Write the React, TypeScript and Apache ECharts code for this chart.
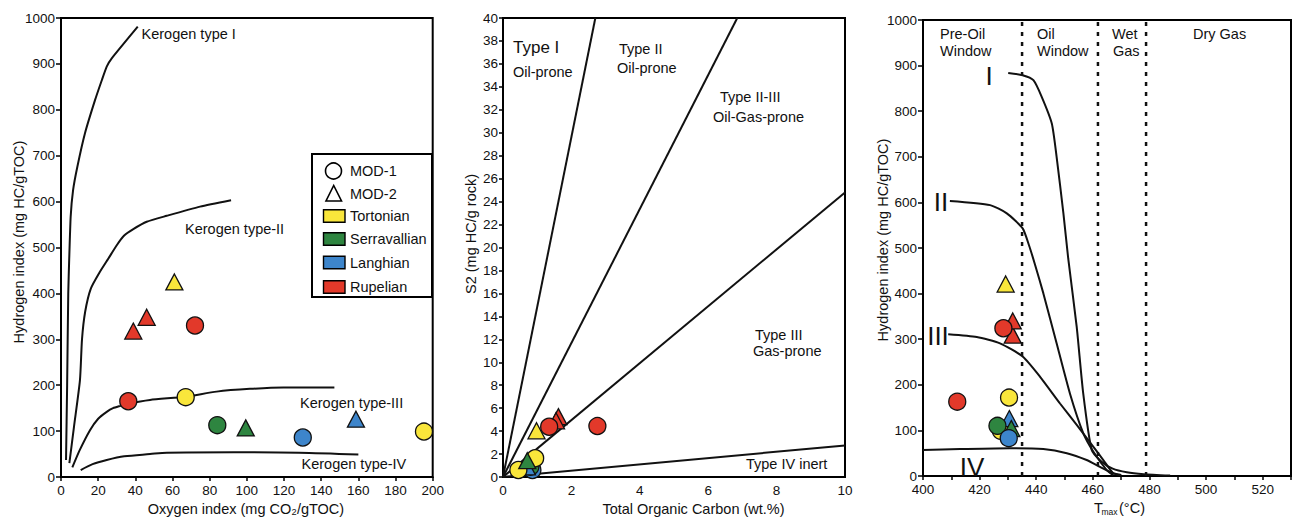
import { useEffect, useRef } from 'react';
import * as echarts from 'echarts';

const FONT = 'Liberation Sans, Arial, Helvetica, sans-serif';

const FORMATIONS = ['Tortonian', 'Serravallian', 'Langhian', 'Rupelian'];
const FORMATION_COLORS = ['#F9E63B', '#2E8540', '#3D85CB', '#E2392A'];
const WELLS = ['MOD-1', 'MOD-2'];

// ---- Panel A: Oxygen index vs Hydrogen index [OI, HI]
const oiHiTortMod1 = [[67.1, 174], [195.3, 99]];
const oiHiTortMod2 = [[61, 425]];
const oiHiSerrMod1 = [[84.1, 113]];
const oiHiSerrMod2 = [[99.4, 107]];
const oiHiLangMod1 = [[130.1, 86]];
const oiHiLangMod2 = [[158.7, 126]];
const oiHiRupMod1 = [[72.1, 330], [36.2, 165]];
const oiHiRupMod2 = [[38.9, 318], [46.1, 348]];

const kerogenTypeI = [[2.7, 37], [3.3, 200], [3.9, 400], [4.4, 473], [5.2, 567], [6.5, 625], [8.8, 676], [12.9, 749], [18.3, 821], [22, 865], [24.6, 894], [27.3, 912], [41.3, 981]];
const kerogenTypeII = [[4.5, 30], [7, 110], [10.2, 211], [11.3, 300], [13, 360], [16, 410], [20.8, 446], [25.5, 476], [30, 505], [34, 526], [38.9, 540], [46.1, 556], [56.9, 569], [74.8, 589], [91.5, 603]];
const kerogenTypeIII = [[6.1, 21], [10, 58], [15.6, 102], [20, 127], [24.6, 142], [28, 150], [32, 155], [36.2, 160], [47.9, 168], [67.1, 175], [83.7, 186], [101.7, 192], [119.6, 195], [147.1, 195]];
const kerogenTypeIV = [[10.6, 15], [17, 28], [24.6, 37], [34, 45], [47.9, 50], [57, 53], [93, 54], [128, 53], [160, 49]];

// ---- Panel B: TOC vs S2 [TOC, S2]
const tocS2TortMod1 = [[0.94, 1.63], [0.45, 0.61]];
const tocS2TortMod2 = [[0.98, 4.03]];
const tocS2SerrMod1 = [[0.8, 0.9]];
const tocS2SerrMod2 = [[0.71, 1.42]];
const tocS2LangMod1 = [[0.86, 0.61]];
const tocS2LangMod2 = [[0.7, 0.88]];
const tocS2RupMod1 = [[1.35, 4.38], [2.76, 4.44]];
const tocS2RupMod2 = [[1.62, 5.26], [1.55, 4.9]];

const boundaryTypeI = [[0, 0], [2.7, 40]];
const boundaryTypeII = [[0, 0], [6.85, 40]];
const boundaryTypeIII = [[0, 0], [10, 24.8]];
const boundaryTypeIV = [[0, 0], [10, 2.75]];

// ---- Panel C: Tmax vs HI [Tmax, HI]
const tmaxHiTortMod1 = [[430.4, 172], [427.5, 99]];
const tmaxHiTortMod2 = [[429.2, 421]];
const tmaxHiSerrMod1 = [[426.3, 110]];
const tmaxHiSerrMod2 = [[431.2, 104]];
const tmaxHiLangMod1 = [[430.3, 83]];
const tmaxHiLangMod2 = [[430.5, 126]];
const tmaxHiRupMod1 = [[428.4, 324], [412.1, 163]];
const tmaxHiRupMod2 = [[431.7, 309], [431.7, 340]];

const maturityTypeI = [[430.1, 884], [435.2, 879], [439, 868], [441.9, 832], [445.5, 773], [447.2, 700], [449.6, 576], [451.3, 477], [454.3, 327], [456.6, 181], [459.6, 57], [463, 32], [467, 16], [472, 8], [478, 4], [487.3, 1]];
const maturityTypeII = [[409.5, 603], [423.7, 594], [429.6, 576], [435.2, 543], [437.5, 505], [439.5, 465], [442.5, 401], [447.2, 291], [451.9, 181], [456.6, 94], [460.2, 53], [464.9, 13], [467.2, 2]];
const maturityTypeIII = [[408.9, 311], [419, 305], [427.2, 291], [435.2, 262], [441.3, 218], [448.4, 159], [454.3, 112], [460.2, 64], [463.7, 35], [467.2, 6], [470, 2]];
const maturityTypeIV = [[400, 57], [413.1, 59], [430.7, 61], [442.5, 59], [450.8, 50], [457.8, 35], [462.5, 20], [467.2, 6], [470, 2]];
const maturityZoneBounds = [435, 461.8, 478.8];

const xTicksTmax = [400, 420, 440, 460, 480, 500, 520];

function scatter(data: number[][], formation: number, well: number, axis: number) {
  return {
    type: 'scatter',
    name: FORMATIONS[formation] + ' ' + WELLS[well],
    xAxisIndex: axis,
    yAxisIndex: axis,
    data,
    symbol: well === 0 ? 'circle' : 'triangle',
    symbolSize: well === 0 ? 17 : [17, 16],
    itemStyle: { color: FORMATION_COLORS[formation], borderColor: '#111', borderWidth: 1.3, opacity: 1 },
    clip: false,
    silent: true,
    z: 5,
  };
}

function curve(data: number[][], axis: number, smooth: number | boolean = 0.2) {
  return {
    type: 'line',
    xAxisIndex: axis,
    yAxisIndex: axis,
    data,
    showSymbol: false,
    symbol: 'none',
    smooth,
    lineStyle: { color: '#111', width: 2 },
    silent: true,
    z: 3,
  };
}

function dotted(x: number) {
  return {
    type: 'line',
    xAxisIndex: 2,
    yAxisIndex: 2,
    data: [[x, 0], [x, 1000]],
    showSymbol: false,
    symbol: 'none',
    lineStyle: { color: '#111', width: 2.5, type: [4, 6] },
    silent: true,
    z: 2,
  };
}

const axisCommon = {
  type: 'value',
  axisLine: { show: true, onZero: false, lineStyle: { color: '#000', width: 2 } },
  axisTick: { show: true, length: 4, lineStyle: { color: '#000', width: 1.5 } },
  splitLine: { show: false },
  axisLabel: { color: '#111', fontSize: 13.5, fontFamily: FONT, margin: 6, formatter: (v: number) => String(v) },
};

function txt(x: number, y: number, text: string, fontSize = 14.5, align = 'left', extra: any = {}) {
  return {
    type: 'text',
    x,
    y,
    silent: true,
    z: 10,
    ...extra,
    style: { text, fontSize, fontFamily: FONT, fill: '#111', align, verticalAlign: 'middle' },
  };
}

export default function App() {
  const ref = useRef<HTMLDivElement>(null);
  useEffect(() => {
    if (!ref.current) return;
    const chart = echarts.init(ref.current, null, { renderer: 'svg' });

    const legendRows = [
      { y: 216, label: FORMATIONS[0], color: FORMATION_COLORS[0] },
      { y: 239, label: FORMATIONS[1], color: FORMATION_COLORS[1] },
      { y: 262.5, label: FORMATIONS[2], color: FORMATION_COLORS[2] },
      { y: 287, label: FORMATIONS[3], color: FORMATION_COLORS[3] },
    ];

    const graphic: any[] = [
      // legend box
      { type: 'rect', shape: { x: 312, y: 154, width: 120, height: 143 }, style: { fill: '#fff', stroke: '#000', lineWidth: 2 }, z: 8, silent: true },
      { type: 'circle', shape: { cx: 333.5, cy: 171, r: 8 }, style: { fill: '#fff', stroke: '#000', lineWidth: 1.6 }, z: 9, silent: true },
      txt(350, 171, WELLS[0], 14.5, 'left', { z: 9 }),
      { type: 'polygon', shape: { points: [[326, 201], [341.5, 201], [333.7, 185.5]] }, style: { fill: '#fff', stroke: '#000', lineWidth: 1.6 }, z: 9, silent: true },
      txt(350, 194, WELLS[1], 14.5, 'left', { z: 9 }),
      ...legendRows.flatMap((r) => [
        { type: 'rect', shape: { x: 323.5, y: r.y - 6.3, width: 21.5, height: 12.6 }, style: { fill: r.color, stroke: '#000', lineWidth: 1.4 }, z: 9, silent: true },
        txt(350, r.y, r.label, 14.5, 'left', { z: 9 }),
      ]),
      // Panel A annotations
      txt(141.5, 33.5, 'Kerogen type I'),
      txt(185, 229, 'Kerogen type-II'),
      txt(300, 403, 'Kerogen type-III'),
      txt(301.5, 464, 'Kerogen type-IV'),
      // Panel B annotations
      txt(513, 47.5, 'Type I', 17),
      txt(513, 72, 'Oil-prone'),
      txt(619, 49, 'Type II'),
      txt(617, 68, 'Oil-prone'),
      txt(720, 97, 'Type II-III'),
      txt(713, 117, 'Oil-Gas-prone'),
      txt(755, 335, 'Type III'),
      txt(753, 351, 'Gas-prone'),
      txt(746, 464, 'Type IV inert'),
      // Panel C annotations
      txt(940, 33.5, 'Pre-Oil'),
      txt(940, 51, 'Window'),
      txt(1037, 33.5, 'Oil'),
      txt(1037, 51, 'Window'),
      txt(1112, 33.5, 'Wet'),
      txt(1113, 51, 'Gas'),
      txt(1193, 33.5, 'Dry Gas'),
      txt(989, 76, 'I', 26, 'center'),
      txt(941, 202, 'II', 26, 'center'),
      txt(938, 336, 'III', 26, 'center'),
      txt(972, 467, 'IV', 26, 'center'),
      // Axis titles
      txt(246, 509, 'Oxygen index (mg CO₂/gTOC)', 14.5, 'center'),
      txt(693.5, 509, 'Total Organic Carbon (wt.%)', 14.5, 'center'),
      txt(1098.5, 507.5, 'T', 14.5, 'center'),
      txt(1109.5, 512, 'max', 8.5, 'center'),
      txt(1132, 507.5, '(°C)', 14.5, 'center'),
      txt(19, 242, 'Hydrogen index (mg HC/gTOC)', 14.5, 'center', { rotation: Math.PI / 2 }),
      txt(471, 234, 'S2 (mg HC/g rock)', 14.5, 'center', { rotation: Math.PI / 2 }),
      txt(883, 240, 'Hydrogen index (mg HC/gTOC)', 14.5, 'center', { rotation: Math.PI / 2 }),
    ];

    const option: any = {
      animation: false,
      backgroundColor: '#ffffff',
      textStyle: { fontFamily: FONT },
      grid: [
        { left: 61, top: 18, width: 371.7, height: 459, show: true, borderColor: '#000', borderWidth: 2, backgroundColor: 'transparent' },
        { left: 503, top: 18, width: 342, height: 459, show: true, borderColor: '#000', borderWidth: 2, backgroundColor: 'transparent' },
        { left: 923, top: 20, width: 368, height: 456, show: true, borderColor: '#000', borderWidth: 2, backgroundColor: 'transparent' },
      ],
      xAxis: [
        { ...axisCommon, gridIndex: 0, min: 0, max: 200, interval: 20 },
        { ...axisCommon, gridIndex: 1, min: 0, max: 10, interval: 2, axisTick: { show: false } },
        {
          ...axisCommon,
          gridIndex: 2,
          min: 400,
          max: 530,
          interval: 10,
          axisLabel: {
            ...axisCommon.axisLabel,
            formatter: (v: number) => (xTicksTmax.includes(v) ? String(v) : ''),
          },
        },
      ],
      yAxis: [
        { ...axisCommon, gridIndex: 0, min: 0, max: 1000, interval: 100, axisTick: { ...axisCommon.axisTick, length: 5 } },
        { ...axisCommon, gridIndex: 1, min: 0, max: 40, interval: 2, axisLabel: { ...axisCommon.axisLabel, margin: 5 } },
        { ...axisCommon, gridIndex: 2, min: 0, max: 1000, interval: 100, axisTick: { ...axisCommon.axisTick, length: 5 } },
      ],
      graphic,
      series: [
        // Panel A
        curve(kerogenTypeI, 0, 0.15),
        curve(kerogenTypeII, 0, 0.2),
        curve(kerogenTypeIII, 0, 0.2),
        curve(kerogenTypeIV, 0, 0.3),
        scatter(oiHiTortMod2, 0, 1, 0),
        scatter(oiHiSerrMod2, 1, 1, 0),
        scatter(oiHiLangMod2, 2, 1, 0),
        scatter(oiHiRupMod2, 3, 1, 0),
        scatter(oiHiTortMod1, 0, 0, 0),
        scatter(oiHiSerrMod1, 1, 0, 0),
        scatter(oiHiLangMod1, 2, 0, 0),
        scatter(oiHiRupMod1, 3, 0, 0),
        // Panel B
        curve(boundaryTypeI, 1, false),
        curve(boundaryTypeII, 1, false),
        curve(boundaryTypeIII, 1, false),
        curve(boundaryTypeIV, 1, false),
        scatter(tocS2LangMod1, 2, 0, 1),
        scatter(tocS2SerrMod1, 1, 0, 1),
        scatter(tocS2LangMod2, 2, 1, 1),
        scatter(tocS2TortMod1, 0, 0, 1),
        scatter(tocS2SerrMod2, 1, 1, 1),
        scatter(tocS2TortMod2, 0, 1, 1),
        scatter(tocS2RupMod2, 3, 1, 1),
        scatter(tocS2RupMod1, 3, 0, 1),
        // Panel C
        ...maturityZoneBounds.map((b) => dotted(b)),
        curve(maturityTypeI, 2, 0.2),
        curve(maturityTypeII, 2, 0.2),
        curve(maturityTypeIII, 2, 0.2),
        curve(maturityTypeIV, 2, 0.2),
        scatter(tmaxHiTortMod1, 0, 0, 2),
        scatter(tmaxHiLangMod2, 2, 1, 2),
        scatter(tmaxHiSerrMod2, 1, 1, 2),
        scatter(tmaxHiRupMod2, 3, 1, 2),
        scatter(tmaxHiTortMod2, 0, 1, 2),
        scatter(tmaxHiSerrMod1, 1, 0, 2),
        scatter(tmaxHiLangMod1, 2, 0, 2),
        scatter(tmaxHiRupMod1, 3, 0, 2),
      ],
    };
    chart.setOption(option);
    return () => chart.dispose();
  }, []);

  return <div ref={ref} style={{ position: 'fixed', left: 0, top: 0, width: 1299, height: 519 }} />;
}
